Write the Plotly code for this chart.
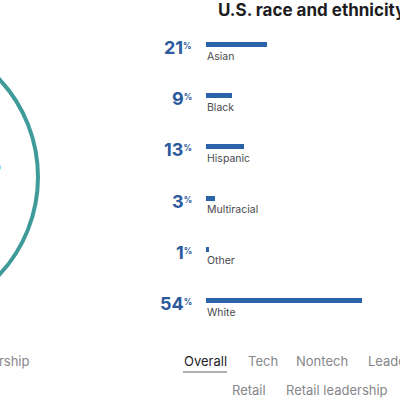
import plotly.graph_objects as go

categories = ["Asian", "Black", "Hispanic", "Multiracial", "Other", "White"]
values = [21, 9, 13, 3, 1, 54]
title_text = "U.S. race and ethnicity"
tabs_row1 = ["Overall", "Tech", "Nontech", "Leadership"]
tabs_row2 = ["Retail", "Retail leadership"]

W = H = 400
BAR = "#2b63aa"
PCT = "#2c5a9c"
TEAL = "#3f9a9a"

fig = go.Figure()
fig.add_trace(go.Bar(
    x=values, y=categories, orientation="h",
    marker=dict(color=BAR, line=dict(width=0)),
    width=0.1, hoverinfo="skip",
))

# axis geometry (pixels -> data units)
x0px = 206.0
px_per_pct = 2.89
spacing = 51.2
first_center = 44.5
top_idx = -first_center / spacing
bot_idx = top_idx + H / spacing

fig.update_xaxes(domain=[x0px / W, 1], range=[0, (W - x0px) / px_per_pct],
                 visible=False, fixedrange=True)
fig.update_yaxes(domain=[0, 1], range=[bot_idx, top_idx], visible=False,
                 type="category", categoryorder="array", categoryarray=categories)

ann = []
for c, v in zip(categories, values):
    ann.append(dict(x=0, y=c, xref="x", yref="y", xanchor="right", yanchor="middle",
                    xshift=-12, yshift=-3, showarrow=False,
                    text=f"<b>{v}</b><span style='font-size:12px'><b><sup>%</sup></b></span>",
                    font=dict(family="Inter", size=18, color=PCT)))
    ann.append(dict(x=0, y=c, xref="x", yref="y", xanchor="left", yanchor="middle",
                    xshift=-1, yshift=-11.5, showarrow=False, text=c,
                    font=dict(family="Inter", size=10.5, color="#4a4a4e")))

ann.append(dict(x=216 / W, y=1 - 10 / H, xref="paper", yref="paper", xanchor="left",
                yanchor="middle", showarrow=False, text=f"<b>{title_text}</b>",
                font=dict(family="Inter", size=17, color="#1d1d1f")))

row1_x = [182, 246, 294, 366]
for t, xp in zip(tabs_row1, row1_x):
    ann.append(dict(x=xp / W, y=1 - 361 / H, xref="paper", yref="paper", xanchor="left",
                    yanchor="middle", showarrow=False, text=t,
                    font=dict(family="Inter", size=13,
                              color="#1d1d1f" if t == "Overall" else "#86868b")))
row2_x = [230, 284]
for t, xp in zip(tabs_row2, row2_x):
    ann.append(dict(x=xp / W, y=1 - 390 / H, xref="paper", yref="paper", xanchor="left",
                    yanchor="middle", showarrow=False, text=t,
                    font=dict(family="Inter", size=13, color="#86868b")))
ann.append(dict(x=31 / W, y=1 - 361 / H, xref="paper", yref="paper", xanchor="right",
                yanchor="middle", showarrow=False, text="Leadership",
                font=dict(family="Inter", size=13, color="#86868b")))
ann.append(dict(x=4 / W, y=1 - 163 / H, xref="paper", yref="paper", xanchor="right",
                yanchor="middle", showarrow=False, text="<b>5%</b>",
                font=dict(family="Inter", size=22, color=TEAL)))

shapes = [
    dict(type="circle", xref="paper", yref="paper",
         x0=-248 / W, x1=38 / W, y0=1 - 320 / H, y1=1 - 34 / H,
         line=dict(color=TEAL, width=4)),
    dict(type="line", xref="paper", yref="paper",
         x0=183 / W, x1=227 / W, y0=1 - 372 / H, y1=1 - 372 / H,
         line=dict(color="#b0b0b5", width=2)),
]

fig.update_layout(width=W, height=H, margin=dict(l=0, r=0, t=0, b=0),
                  paper_bgcolor="white", plot_bgcolor="white", showlegend=False,
                  annotations=ann, shapes=shapes, bargap=0)
fig.write_html("out.html", config=dict(displayModeBar=False))

with open("out.html", "r", encoding="utf-8") as f:
    html = f.read()
html = html.replace("<body>", "<body style=\"margin:0;overflow:hidden\">", 1)
with open("out.html", "w", encoding="utf-8") as f:
    f.write(html)
